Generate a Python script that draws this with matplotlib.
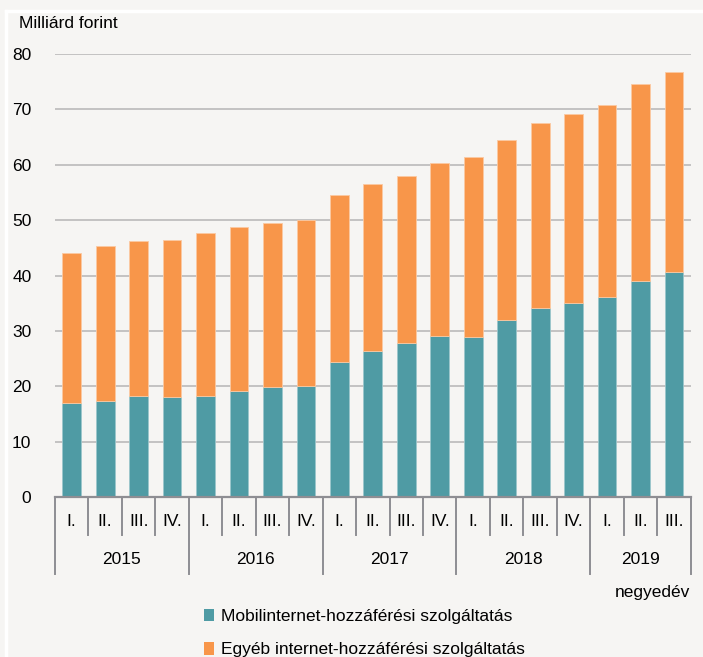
import matplotlib
matplotlib.use('Agg')
import matplotlib.pyplot as plt
import matplotlib.transforms as mtransforms
from matplotlib.font_manager import fontManager
from matplotlib.patches import Patch
import numpy as np

# ---------------- data ----------------
years = ['2015', '2016', '2017', '2018', '2019']
quarters = ['I.', 'II.', 'III.', 'IV.',
            'I.', 'II.', 'III.', 'IV.',
            'I.', 'II.', 'III.', 'IV.',
            'I.', 'II.', 'III.', 'IV.',
            'I.', 'II.', 'III.']
quarters_per_year = [4, 4, 4, 4, 3]
mobil = [16.9, 17.4, 18.3, 18.0, 18.3, 19.1, 19.9, 20.0,
         24.4, 26.3, 27.9, 29.1, 28.9, 32.0, 34.2, 35.0,
         36.2, 39.0, 40.7]
total = [44.0, 45.3, 46.2, 46.5, 47.6, 48.7, 49.5, 50.1,
         54.5, 56.5, 58.0, 60.4, 61.4, 64.5, 67.6, 69.2,
         70.7, 74.6, 76.8]
egyeb = [t - m for t, m in zip(total, mobil)]

labels = ['Mobilinternet-hozzáférési szolgáltatás',
          'Egyéb internet-hozzáférési szolgáltatás']

# ---------------- style ----------------
names = {f.name for f in fontManager.ttflist}
if 'Liberation Sans Narrow' in names:
    FONT = 'Liberation Sans Narrow'
    FS = 14
else:
    FONT = 'Liberation Sans'
    FS = 12.5
plt.rcParams['font.family'] = [FONT, 'DejaVu Sans']

BG = '#f6f5f3'
TEAL = '#4f9ba4'
ORANGE = '#f8964a'
GRID = '#b5b5b5'
AXIS = '#8e8e93'

W, H = 703, 657
fig = plt.figure(figsize=(W / 100, H / 100), dpi=100, facecolor=BG)
ax = fig.add_axes([55 / W, 1 - 497 / H, (690.7 - 55) / W, (497 - 54) / H])
ax.set_facecolor(BG)

x = np.arange(len(mobil))
bw = 0.56
ax.bar(x, mobil, width=bw, color=TEAL, edgecolor='#9cc6cb', linewidth=0.6, zorder=3)
ax.bar(x, egyeb, bottom=mobil, width=bw, color=ORANGE, edgecolor='#fbc9a2',
       linewidth=0.6, zorder=3)

ax.set_xlim(-0.5, len(mobil) - 0.5)
ax.set_ylim(0, 80)
ax.set_yticks(np.arange(0, 81, 10))
ax.yaxis.grid(True, color=GRID, linewidth=1.1, zorder=0)
ax.tick_params(axis='y', length=0, pad=17, labelsize=FS)
ax.set_xticks([])
for s in ['top', 'right', 'left']:
    ax.spines[s].set_visible(False)
ax.spines['bottom'].set_color(AXIS)
ax.spines['bottom'].set_linewidth(1.6)
ax.spines['bottom'].set_zorder(4)

# two-level category axis
trans = mtransforms.blended_transform_factory(ax.transData, ax.transAxes)
ah = 497 - 54
q_len = -(535 - 497) / ah
y_len = -(574 - 497) / ah
starts = np.cumsum([0] + quarters_per_year)
for i in range(len(mobil) + 1):
    pos = i - 0.5
    yl = y_len if i in starts else q_len
    ax.plot([pos, pos], [0, yl], color=AXIS, linewidth=1.4,
            transform=trans, clip_on=False)
for i, q in enumerate(quarters):
    ax.text(i, -(522 - 497) / ah, q, transform=trans, ha='center', va='center',
            fontsize=FS)
for k, yr in enumerate(years):
    c = (starts[k] + starts[k + 1] - 1) / 2
    ax.text(c, -(560 - 497) / ah, yr, transform=trans, ha='center', va='center',
            fontsize=FS)

fig.text(690 / W, 1 - 593 / H, 'negyedév', ha='right', va='center', fontsize=FS)
fig.text(19 / W, 1 - 24 / H, 'Milliárd forint', ha='left', va='center', fontsize=FS)

handles = [Patch(facecolor=TEAL, edgecolor='none'),
           Patch(facecolor=ORANGE, edgecolor='none')]
fig.legend(handles, labels, loc='upper left', bbox_to_anchor=(204 / W, 1 - 608.5 / H),
           frameon=False, fontsize=FS, handlelength=0.58, handleheight=0.75,
           handletextpad=0.38, labelspacing=1.04, borderpad=0, borderaxespad=0)

# thin white frame at top and left
fig.add_artist(plt.Line2D([6 / W, 1], [1 - 11 / H, 1 - 11 / H], color='white',
                          linewidth=2.5, transform=fig.transFigure))
fig.add_artist(plt.Line2D([6 / W, 6 / W], [0, 1 - 11 / H], color='white',
                          linewidth=2.5, transform=fig.transFigure))

fig.savefig('out.png', dpi=100, facecolor=BG)
